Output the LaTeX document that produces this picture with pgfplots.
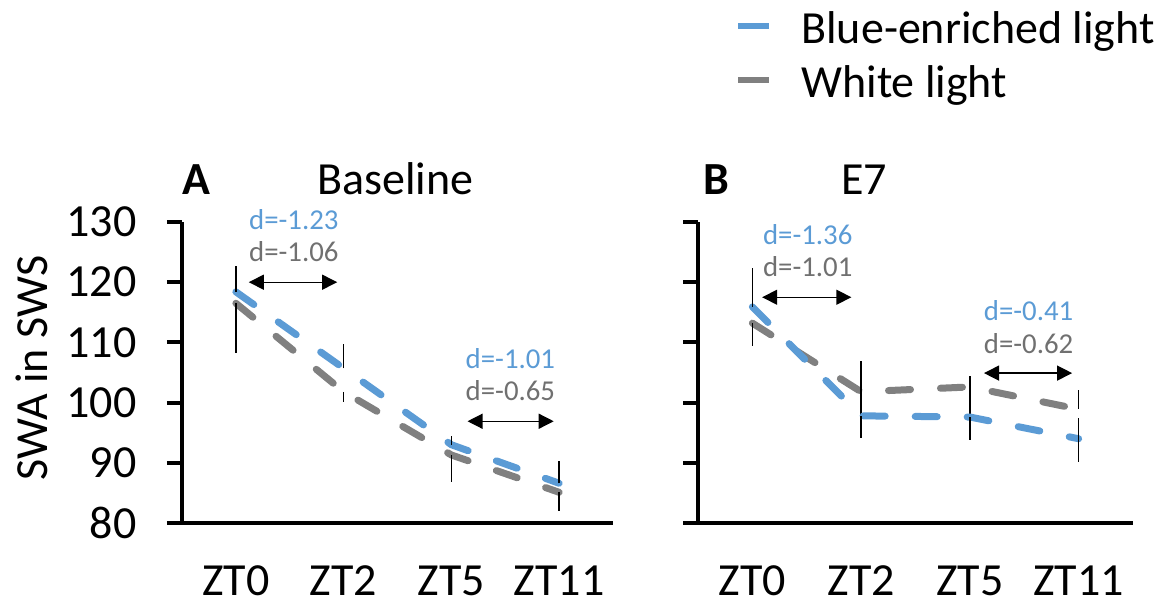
\documentclass[border=0pt]{standalone}
\usepackage{fontspec}
\setmainfont{Carlito}
\usepackage{pgfplots}
\pgfplotsset{compat=1.18}
\usetikzlibrary{arrows.meta}
\definecolor{cblue}{RGB}{91,155,213}
\definecolor{cgray}{RGB}{128,128,128}
\definecolor{tgray}{RGB}{112,112,112}
\newcommand{\bigfont}{\fontsize{23}{27}\selectfont}
\newcommand{\smfont}{\fontsize{14.4}{17}\selectfont}
\tikzset{arr/.style={{Triangle[length=7.5pt,width=7.5pt]}-{Triangle[length=7.5pt,width=7.5pt]}, line width=0.65pt, black}}
\pgfplotsset{
 panel/.style={
  scale only axis, height=150.5pt,
  xmin=-0.5, xmax=3.5, ymin=80, ymax=130,
  axis x line=bottom, axis y line=left,
  axis line style={-, line width=2pt, black},
  xtick={0,1,2,3}, xticklabels={ZT0,ZT2,ZT5,ZT11},
  x tick style={draw=none},
  ytick={80,90,...,130},
  y tick style={line width=2pt, black},
  tick align=outside, major tick length=7.5pt,
  tick label style={font=\bigfont},
  /pgf/number format/assume math mode=true,
  xticklabel style={anchor=base, inner sep=0pt, yshift=-29pt},
  yticklabel style={anchor=east, inner sep=0pt, xshift=-15pt},
  clip=false,
  every axis plot/.append style={line width=3.5pt, line cap=round, dash pattern=on 11pt off 15pt},
  error bars/y dir=both, error bars/y explicit, error bars/error mark=none,
  error bars/error bar style={solid, black, line width=0.75pt, line cap=butt},
 },
}
\begin{document}
\begin{tikzpicture}
\path[use as bounding box] (0,0) rectangle (588pt,301.5pt);
% Panel A
\begin{axis}[panel, width=215.5pt, at={(91pt,40pt)}, anchor=south west,
  ylabel={SWA in SWS},
  ylabel style={at={(axis description cs:-0.349,0.515)}, anchor=center, font=\bigfont}]
\addplot[cgray] coordinates {
 (0,116.5) += (0,0) -= (0,8.3)
 (1,101.8) += (0,0) -= (0,1.7)
 (2,91.3) += (0,0) -= (0,4.5)
 (3,85.1) += (0,0) -= (0,3.1)};
\addplot[cblue] coordinates {
 (0,118.4) += (0,4.3) -= (0,0)
 (1,105.7) += (0,4.0) -= (0,0)
 (2,93.0) += (0,1.5) -= (0,0)
 (3,86.6) += (0,3.7) -= (0,0)};
\node[anchor=base, font=\bigfont\bfseries] at (axis cs:-0.37,134.5) {A};
\node[anchor=base, font=\bigfont] at (axis cs:1.48,134.5) {Baseline};
\node[anchor=base, font=\smfont, text=cblue] at (axis cs:0.538,128.7) {d=-1.23};
\node[anchor=base, font=\smfont, text=tgray] at (axis cs:0.538,123.4) {d=-1.06};
\draw[arr] (axis cs:0.12,120.0) -- (axis cs:0.94,120.0);
\node[anchor=base, font=\smfont, text=cblue] at (axis cs:2.548,105.7) {d=-1.01};
\node[anchor=base, font=\smfont, text=tgray] at (axis cs:2.548,100.4) {d=-0.65};
\draw[arr] (axis cs:2.15,96.9) -- (axis cs:2.95,96.9);
\end{axis}
% Panel B
\begin{axis}[panel, width=217.5pt, at={(349pt,40pt)}, anchor=south west,
  yticklabels={},
  legend style={at={(axis description cs:0.085,1.701)}, anchor=north west, draw=none, fill=none,
    font=\bigfont, inner sep=0pt, row sep=9.7pt, column sep=14.5pt, nodes={inner sep=0pt}},
  legend cell align=left, reverse legend,
  legend image code/.code={\draw[solid, line width=3pt, line cap=butt] (0pt,1.5pt) -- (15.5pt,1.5pt);}]
\addplot[cgray] coordinates {
 (0,113.2) += (0,0) -= (0,3.8)
 (1,101.8) += (0,5.1) -= (0,4.0)
 (2,102.6) += (0,1.8) -= (0,5.0)
 (3,98.9) += (0,3.2) -= (0,0)};
\addlegendentry{White light}
\addplot[cblue] coordinates {
 (0,115.9) += (0,6.5) -= (0,0)
 (1,97.8) += (0,0) -= (0,3.7)
 (2,97.6) += (0,0) -= (0,3.8)
 (3,94.0) += (0,3.5) -= (0,3.9)};
\addlegendentry{Blue-enriched light}
\node[anchor=base, font=\bigfont\bfseries] at (axis cs:-0.33,134.5) {B};
\node[anchor=base, font=\bigfont] at (axis cs:1.03,134.5) {E7};
\node[anchor=base, font=\smfont, text=cblue] at (axis cs:0.509,126.2) {d=-1.36};
\node[anchor=base, font=\smfont, text=tgray] at (axis cs:0.509,120.9) {d=-1.01};
\draw[arr] (axis cs:0.09,117.5) -- (axis cs:0.91,117.5);
\node[anchor=base, font=\smfont, text=cblue] at (axis cs:2.54,113.6) {d=-0.41};
\node[anchor=base, font=\smfont, text=tgray] at (axis cs:2.54,108.2) {d=-0.62};
\draw[arr] (axis cs:2.13,104.9) -- (axis cs:2.94,104.9);
\end{axis}
\end{tikzpicture}
\end{document}
